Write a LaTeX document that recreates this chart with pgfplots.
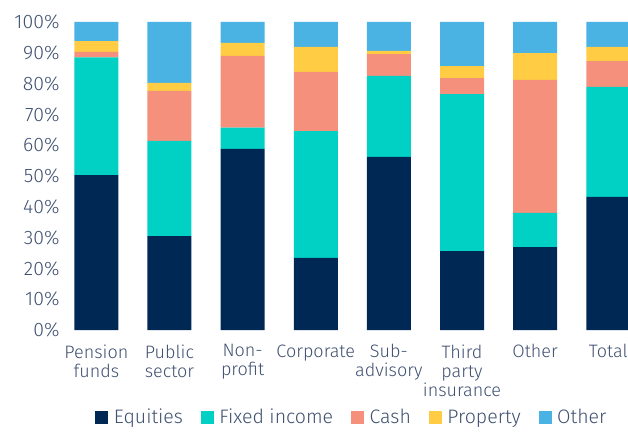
\documentclass[border=0pt]{standalone}
\usepackage{fontspec}
\IfFontExistsTF{Fira Sans Light}{\setmainfont{Fira Sans Light}}{\setmainfont{Fira Sans}}
\usepackage{pgfplots}
\pgfplotsset{compat=1.18}
\definecolor{equ}{HTML}{002855}
\definecolor{fix}{HTML}{00D1C4}
\definecolor{cash}{HTML}{F4907B}
\definecolor{prop}{HTML}{FFCC44}
\definecolor{oth}{HTML}{4BB3E3}
\definecolor{txt}{HTML}{3F5070}

\begin{document}
\begin{tikzpicture}
\begin{axis}[
  scale only axis,
  width=566pt, height=308pt,
  ybar stacked,
  bar width=44pt,
  xmin=-0.47, xmax=7.27,
  ymin=0, ymax=100,
  ytick={0,10,...,100},
  yticklabel={\pgfmathprintnumber{\tick}\%},
  xtick={0,...,7},
  xticklabels={Pension\\funds, Public\\sector, Non-\\profit, Corporate, Sub-\\advisory, Third\\party\\insurance, Other, Total},
  x tick label style={align=center, font=\fontsize{18}{19}\selectfont, text=txt, yshift=-11pt},
  y tick label style={font=\fontsize{19.5}{19}\selectfont, text=txt, xshift=1pt},
  /pgf/number format/assume math mode=true,
  axis line style={draw=none},
  major tick length=0pt,
  legend columns=-1,
  legend style={draw=none, at={(0.057,-0.247)}, anchor=north west, inner sep=1pt,
    font=\fontsize{19.5}{19}\selectfont, text=txt,
    /tikz/every even column/.append style={column sep=16pt}},
  legend image code/.code={\fill[#1] (0pt,-6.5pt) rectangle (13pt,6.5pt); \path (16.5pt,0pt);},
]
\addplot[fill=equ, draw=none] coordinates {(0,50.3) (1,30.5) (2,58.8) (3,23.4) (4,56.2) (5,25.6) (6,26.9) (7,43.2)};
\addplot[fill=fix, draw=none] coordinates {(0,38.2) (1,30.9) (2,6.9) (3,41.2) (4,26.3) (5,51.0) (6,11.1) (7,35.7)};
\addplot[fill=cash, draw=none] coordinates {(0,1.8) (1,16.2) (2,23.3) (3,19.2) (4,7.1) (5,5.2) (6,43.2) (7,8.4)};
\addplot[fill=prop, draw=none] coordinates {(0,3.5) (1,2.6) (2,4.2) (3,8.1) (4,1.0) (5,3.9) (6,8.7) (7,4.6)};
\addplot[fill=oth, draw=none] coordinates {(0,6.2) (1,19.8) (2,6.8) (3,8.1) (4,9.4) (5,14.3) (6,10.1) (7,8.1)};
\legend{Equities, Fixed income, Cash, Property, Other}
\end{axis}
\pgfresetboundingbox
\path (-62pt,-101pt) rectangle (566pt,330pt);
\end{tikzpicture}
\end{document}
